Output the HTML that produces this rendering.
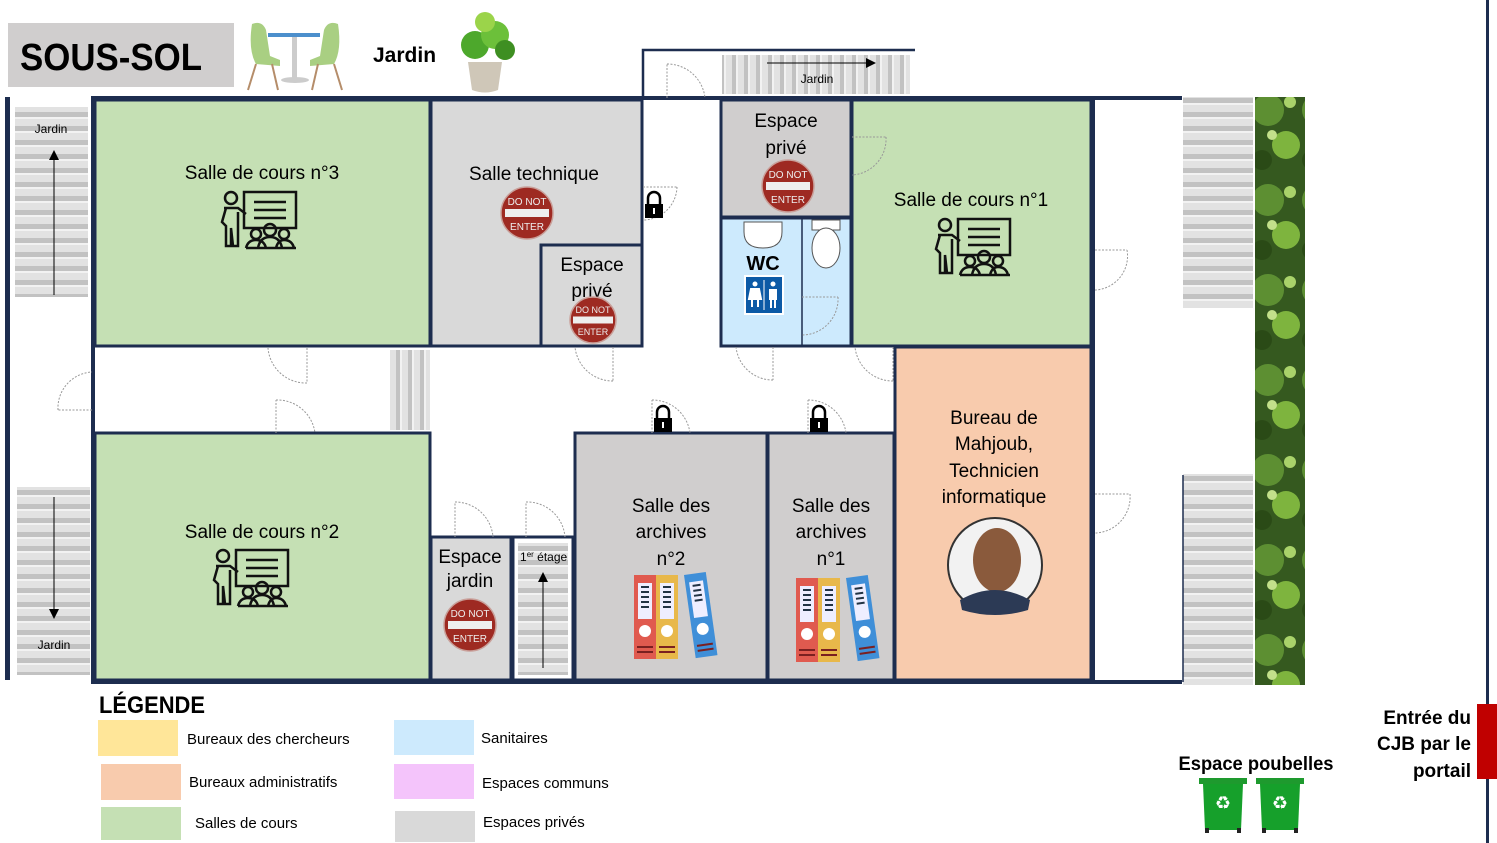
<!DOCTYPE html>
<html><head><meta charset="utf-8"><style>
html,body{margin:0;padding:0;background:#fff;}
svg{display:block;}
text{font-family:"Liberation Sans",sans-serif;fill:#000;}
</style></head><body>
<svg width="1497" height="843" viewBox="0 0 1497 843" xmlns="http://www.w3.org/2000/svg">
<defs>
<pattern id="sh" width="10" height="14" patternUnits="userSpaceOnUse"><rect width="10" height="14" fill="#e2e2e2"/><rect y="0" width="10" height="5" fill="#c2c2c2"/><rect y="5" width="10" height="2" fill="#f2f2f2"/></pattern>
<pattern id="sv" width="12" height="10" patternUnits="userSpaceOnUse"><rect width="12" height="10" fill="#e2e2e2"/><rect x="0" width="4" height="10" fill="#c2c2c2"/><rect x="4" width="2" height="10" fill="#f2f2f2"/></pattern>
<pattern id="pl" width="50" height="90" patternUnits="userSpaceOnUse"><rect width="50" height="90" fill="#35591f"/><circle cx="18" cy="20" r="16" fill="#5d8f32"/><circle cx="36" cy="55" r="14" fill="#7eb43e"/><circle cx="12" cy="70" r="10" fill="#2a4a16"/><circle cx="40" cy="12" r="6" fill="#a9d36a"/><circle cx="22" cy="45" r="5" fill="#c3e08a"/></pattern>
<g id="dne"><circle r="26" fill="#9e2a22" stroke="#c9a09a" stroke-width="1.5"/><rect x="-22" y="-4" width="44" height="8" fill="#eee"/><text y="-8" text-anchor="middle" font-size="10" style="fill:#eee">DO NOT</text><text y="17" text-anchor="middle" font-size="10" style="fill:#eee">ENTER</text></g>
<g id="dnes"><circle r="23" fill="#9e2a22" stroke="#c9a09a" stroke-width="1.5"/><rect x="-20" y="-3.5" width="40" height="7" fill="#eee"/><text y="-7" text-anchor="middle" font-size="9" style="fill:#eee">DO NOT</text><text y="15" text-anchor="middle" font-size="9" style="fill:#eee">ENTER</text></g>
<g id="teach" fill="none" stroke="#111" stroke-width="2.5"><circle cx="13" cy="8" r="6"/><path d="M6 18 L20 18 L28 24 M8 18 L4 32 L8 36 L8 56 L13 56 L13 38 L15 56 L20 56 L20 22"/><rect x="26" y="2" width="52" height="36"/><path d="M36 12 H68 M36 20 H68 M36 28 H68"/><circle cx="38" cy="44" r="5"/><circle cx="52" cy="40" r="6"/><circle cx="66" cy="44" r="5"/><path d="M28 58 Q30 50 38 50 Q46 50 48 58 M40 58 Q42 47 52 47 Q62 47 64 58 M58 58 Q60 50 66 50 Q74 50 76 58 M28 58 H78"/></g>
<g id="lock"><path d="M-6 0 V-6 A6 6 0 0 1 6 -6 V0" fill="none" stroke="#000" stroke-width="2.5"/><rect x="-9" y="0" width="18" height="14" fill="#000"/><rect x="-1" y="4" width="2" height="6" fill="#fff"/></g>
<g id="bind"><rect x="0" y="0" width="22" height="84" fill="#e05a4f"/><rect x="22" y="0" width="22" height="84" fill="#e8b84a"/><rect x="4" y="8" width="14" height="36" fill="#eef"/><rect x="26" y="8" width="14" height="36" fill="#eef"/><circle cx="11" cy="56" r="6" fill="#fff"/><circle cx="33" cy="56" r="6" fill="#fff"/><path d="M7 12h8M7 17h8M7 22h8M7 27h8M7 32h8M29 12h8M29 17h8M29 22h8M29 27h8M29 32h8" stroke="#234" stroke-width="2"/><path d="M3 72h16M3 77h16M25 72h16M25 77h16" stroke="#7a2020" stroke-width="2"/><g transform="translate(50,0) rotate(-8)"><rect x="0" y="0" width="22" height="84" fill="#3f8fd8"/><rect x="4" y="8" width="14" height="36" fill="#eef"/><circle cx="11" cy="56" r="6" fill="#fff"/><path d="M7 12h8M7 17h8M7 22h8M7 27h8" stroke="#234" stroke-width="2"/><path d="M3 72h16M3 77h16" stroke="#7a2020" stroke-width="2"/></g></g>
<g id="bin"><rect x="-2" y="0" width="48" height="6" fill="#1e9a2e"/><path d="M2 6 H42 L40 52 H4 Z" fill="#16a02b"/><rect x="4" y="50" width="4" height="5" fill="#222"/><rect x="36" y="50" width="4" height="5" fill="#222"/><text x="22" y="31" text-anchor="middle" font-size="18" style="fill:#fff">♻</text></g>
</defs>

<!-- title -->
<rect x="8" y="23" width="226" height="64" fill="#d0cece"/>
<text x="20" y="70" font-size="38" font-weight="bold" textLength="182" lengthAdjust="spacingAndGlyphs">SOUS-SOL</text>
<!-- chairs -->
<g>
<path d="M252 24 Q262 20 266 30 L270 56 L280 60 L280 66 L256 64 Q248 50 252 24Z" fill="#a9cf82"/>
<path d="M338 24 Q328 20 324 30 L320 56 L310 60 L310 66 L334 64 Q342 50 338 24Z" fill="#a9cf82"/>
<rect x="268" y="33" width="52" height="4" fill="#4c8fcc"/>
<rect x="292" y="37" width="5" height="42" fill="#ccc"/><ellipse cx="295" cy="80" rx="14" ry="3" fill="#ccc"/>
<path d="M256 64 L248 90 M272 64 L278 90 M334 64 L342 90 M318 64 L312 90" stroke="#b58d6a" stroke-width="2"/>
</g>
<text x="373" y="62" font-size="21" font-weight="bold">Jardin</text>
<!-- plant -->
<path d="M468 62 H502 L498 90 Q485 95 472 90Z" fill="#cfc7b8"/>
<circle cx="475" cy="45" r="14" fill="#4da82c"/><circle cx="495" cy="35" r="14" fill="#6cc03a"/><circle cx="485" cy="22" r="10" fill="#9bd44a"/><circle cx="505" cy="50" r="10" fill="#3e8f22"/>

<!-- left wall and stairs -->
<rect x="5" y="97" width="5" height="583" fill="#1d2d4f"/>
<rect x="15" y="107" width="73" height="190" fill="url(#sh)"/>
<text x="51" y="133" font-size="12" text-anchor="middle">Jardin</text>
<line x1="54" y1="295" x2="54" y2="158" stroke="#000" stroke-width="1"/><path d="M49 160 L54 150 L59 160Z"/>
<rect x="17" y="487" width="73" height="188" fill="url(#sh)"/>
<line x1="54" y1="497" x2="54" y2="610" stroke="#000" stroke-width="1"/><path d="M49 609 L54 619 L59 609Z"/>
<text x="54" y="649" font-size="12" text-anchor="middle">Jardin</text>

<!-- top annex -->
<path d="M643 97 V50 H915" fill="none" stroke="#1d2d4f" stroke-width="2.5"/>
<rect x="722" y="55" width="188" height="39" fill="url(#sv)"/>
<line x1="767" y1="63" x2="868" y2="63" stroke="#000"/><path d="M866 58 L876 63 L866 68Z"/>
<text x="817" y="83" font-size="12" text-anchor="middle">Jardin</text>

<!-- rooms -->
<g stroke="#1d2d4f" stroke-width="3">
<rect x="95" y="100" width="335" height="246" fill="#c5e0b4"/>
<rect x="431" y="100" width="211" height="246" fill="#d9d9d9"/>
<rect x="541" y="245" width="101" height="101" fill="#d9d9d9"/>
<rect x="721" y="100" width="130" height="117" fill="#d0cece"/>
<rect x="721" y="218" width="130" height="128" fill="#cdeafd"/>
<rect x="852" y="100" width="239" height="246" fill="#c5e0b4"/>
<rect x="895" y="347" width="196" height="333" fill="#f8cbad"/>
<rect x="95" y="433" width="335" height="247" fill="#c5e0b4"/>
<rect x="431" y="537" width="80" height="143" fill="#d9d9d9"/>
<rect x="513" y="537" width="60" height="143" fill="#fff"/>
<rect x="575" y="433" width="192" height="247" fill="#d0cece"/>
<rect x="768" y="433" width="126" height="247" fill="#d0cece"/>
</g>
<line x1="802" y1="218" x2="802" y2="346" stroke="#1d2d4f" stroke-width="1.5"/>
<!-- outer frame -->
<path d="M1182 98 H93 V682 H1182" fill="none" stroke="#1d2d4f" stroke-width="4"/>
<line x1="1093" y1="98" x2="1093" y2="682" stroke="#1d2d4f" stroke-width="4"/>
<line x1="93" y1="346" x2="430" y2="346" stroke="#1d2d4f" stroke-width="3"/>
<rect x="518" y="543" width="50" height="132" fill="url(#sh)"/>
<rect x="390" y="350" width="40" height="80" fill="url(#sv)"/>
<line x1="543" y1="668" x2="543" y2="580" stroke="#000"/><path d="M538 582 L543 572 L548 582Z"/>
<text x="520" y="561" font-size="12">1<tspan font-size="8" dy="-4">er</tspan><tspan dy="4"> étage</tspan></text>

<!-- right stairs + plants -->
<rect x="1183" y="97" width="70" height="211" fill="url(#sh)"/>
<rect x="1183" y="474" width="70" height="211" fill="url(#sh)"/>
<line x1="1183" y1="475" x2="1183" y2="682" stroke="#1d2d4f" stroke-width="1.5"/>
<rect x="1255" y="97" width="50" height="588" fill="url(#pl)"/>
<rect x="1486" y="0" width="3" height="843" fill="#1d2d4f"/>
<rect x="1477" y="704" width="20" height="75" fill="#c00000"/>

<!-- doors -->
<g fill="none" stroke="#999" stroke-width="1" stroke-dasharray="2,1.5">
<path d="M643 187 H677 M677 187 A34 34 0 0 1 643 220"/>
<path d="M307 348 V383 M307 383 A38 38 0 0 1 268 348"/>
<path d="M92 410 H58 M58 410 A36 36 0 0 1 92 372"/>
<path d="M276 433 V400 M276 400 A38 38 0 0 1 315 433"/>
<path d="M613 347 V381 M613 381 A38 38 0 0 1 575 347"/>
<path d="M773 347 V380 M773 380 A37 37 0 0 1 736 347"/>
<path d="M893 347 V381 M893 381 A38 38 0 0 1 855 347"/>
<path d="M652 433 V400 M652 400 A38 38 0 0 1 690 433"/>
<path d="M808 433 V400 M808 400 A38 38 0 0 1 846 433"/>
<path d="M455 537 V502 M455 502 A38 38 0 0 1 493 537"/>
<path d="M526 537 V502 M526 502 A38 38 0 0 1 565 537"/>
<path d="M852 137 H886 M886 137 A36 36 0 0 1 852 175"/>
<path d="M667 98 V64 M667 64 A38 38 0 0 1 705 98"/>
<path d="M802 297 H838 M838 297 A36 36 0 0 1 802 335"/>
<path d="M1095 250 H1127 M1127 250 A34 34 0 0 1 1095 290"/>
<path d="M1095 494 H1130 M1130 494 A36 36 0 0 1 1095 533"/>
</g>
<use href="#lock" x="654" y="204"/>
<use href="#lock" x="663" y="418"/>
<use href="#lock" x="819" y="418"/>

<!-- room labels -->
<g font-size="19" text-anchor="middle">
<text x="262" y="179">Salle de cours n°3</text>
<text x="534" y="180">Salle technique</text>
<text x="592" y="271">Espace</text><text x="592" y="297">privé</text>
<text x="786" y="127">Espace</text><text x="786" y="154">privé</text>
<text x="971" y="206">Salle de cours n°1</text>
<text x="262" y="538">Salle de cours n°2</text>
<text x="470" y="563">Espace</text><text x="470" y="587">jardin</text>
<text x="671" y="512">Salle des</text><text x="671" y="538">archives</text><text x="671" y="565">n°2</text>
<text x="831" y="512">Salle des</text><text x="831" y="538">archives</text><text x="831" y="565">n°1</text>
<text x="994" y="424">Bureau de</text><text x="994" y="450">Mahjoub,</text><text x="994" y="477">Technicien</text><text x="994" y="503">informatique</text>
<text x="763" y="270" font-weight="bold" font-size="20">WC</text>
</g>
<use href="#teach" x="218" y="190"/>
<use href="#teach" x="932" y="217"/>
<use href="#teach" x="210" y="548"/>
<use href="#dne" x="527" y="213"/>
<use href="#dnes" x="593" y="320"/>
<use href="#dne" x="788" y="186"/>
<use href="#dne" x="470" y="625"/>
<use href="#bind" x="634" y="575"/>
<use href="#bind" x="796" y="578"/>
<!-- WC fixtures -->
<path d="M744 222 H782 V232 Q782 248 763 248 Q744 248 744 232Z" fill="#fff" stroke="#555"/>
<rect x="812" y="220" width="28" height="10" fill="#fff" stroke="#555"/>
<ellipse cx="826" cy="248" rx="14" ry="20" fill="#fff" stroke="#555"/>
<rect x="744" y="275" width="40" height="40" fill="#fff"/><rect x="746" y="277" width="36" height="36" fill="#0c5aa6"/>
<circle cx="755" cy="284" r="2.5" fill="#fff"/><path d="M751 289 h8 l2 10 h-12z M752 299 v8 M758 299 v8" fill="#fff" stroke="#fff" stroke-width="2"/>
<line x1="764" y1="280" x2="764" y2="310" stroke="#fff"/>
<circle cx="773" cy="284" r="2.5" fill="#fff"/><rect x="769" y="289" width="8" height="11" fill="#fff"/><path d="M771 300v8M775 300v8" stroke="#fff" stroke-width="2"/>
<!-- photo -->
<circle cx="995" cy="565" r="47" fill="#f2f2f2" stroke="#333" stroke-width="2"/>
<ellipse cx="997" cy="560" rx="24" ry="32" fill="#8a5a3c"/>
<path d="M960 600 Q995 580 1030 600 L1028 610 Q995 620 962 610Z" fill="#2c3a55"/>

<!-- legend -->
<text x="99" y="713" font-size="24" font-weight="bold" textLength="106" lengthAdjust="spacingAndGlyphs">LÉGENDE</text>
<rect x="98" y="720" width="80" height="36" fill="#ffe699"/>
<rect x="101" y="764" width="80" height="36" fill="#f8cbad"/>
<rect x="101" y="807" width="80" height="33" fill="#c5e0b4"/>
<rect x="394" y="720" width="80" height="35" fill="#cdeafd"/>
<rect x="394" y="764" width="80" height="35" fill="#f4c4fb"/>
<rect x="395" y="811" width="80" height="31" fill="#d9d9d9"/>
<g font-size="15">
<text x="187" y="744">Bureaux des chercheurs</text>
<text x="189" y="787">Bureaux administratifs</text>
<text x="195" y="828">Salles de cours</text>
<text x="481" y="743">Sanitaires</text>
<text x="482" y="788">Espaces communs</text>
<text x="483" y="827">Espaces privés</text>
</g>
<text x="1256" y="770" font-size="19" font-weight="bold" text-anchor="middle" textLength="155" lengthAdjust="spacingAndGlyphs">Espace poubelles</text>
<use href="#bin" x="1201" y="778"/>
<use href="#bin" x="1258" y="778"/>
<g font-size="19" font-weight="bold" text-anchor="end">
<text x="1471" y="724">Entrée du</text><text x="1471" y="750">CJB par le</text><text x="1471" y="777">portail</text>
</g>
</svg>
</body></html>
